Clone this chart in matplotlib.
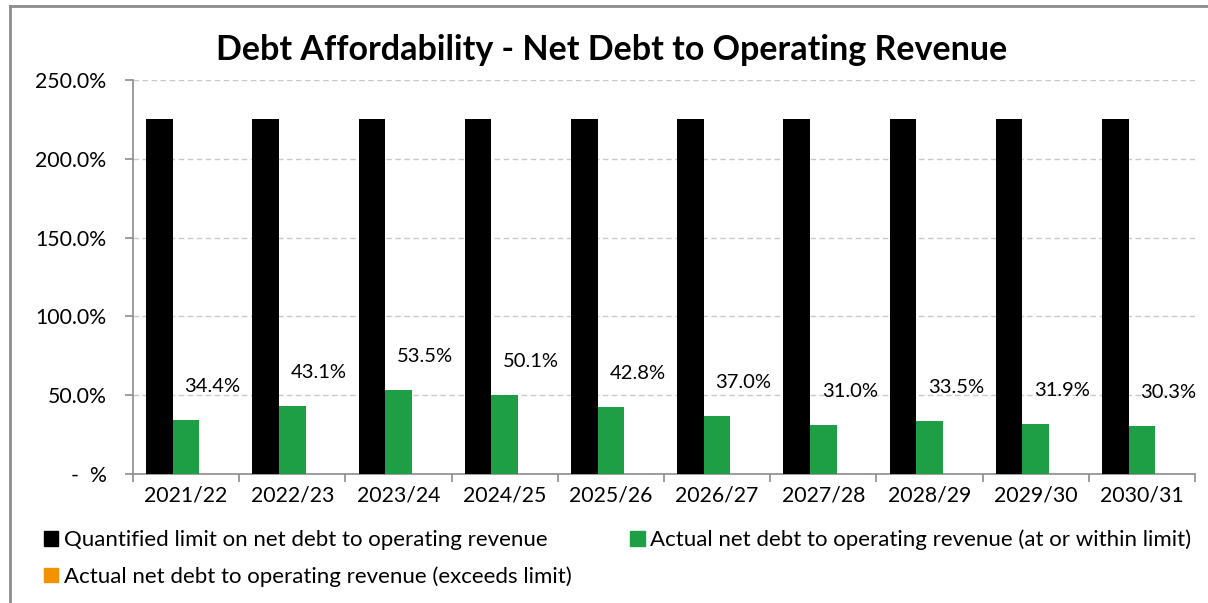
import matplotlib.pyplot as plt
from matplotlib.patches import Patch
from matplotlib.lines import Line2D
import numpy as np

plt.rcParams['font.family'] = ['Lato', 'DejaVu Sans']

years = ['2021/22', '2022/23', '2023/24', '2024/25', '2025/26',
         '2026/27', '2027/28', '2028/29', '2029/30', '2030/31']
limit = [225.0] * 10
actual_within = [34.4, 43.1, 53.5, 50.1, 42.8, 37.0, 31.0, 33.5, 31.9, 30.3]
actual_exceeds = [0.0] * 10

black = '#000000'
green = '#1E9E45'
orange = '#F39200'
grey = '#8C8C8C'

fig = plt.figure(figsize=(12.08, 6.03), dpi=100)
ax = fig.add_axes([0.1101, 0.2139, 0.8791, 0.6534])

x = np.arange(len(years))
w = 0.25
ax.bar(x - w, limit, w, color=black, zorder=3)
ax.bar(x, actual_within, w, color=green, zorder=3)
ax.bar(x + w, actual_exceeds, w, color=orange, zorder=3)

for xi, v in zip(x, actual_within):
    ax.annotate(f'{v:.1f}%', (xi + w, v), xytext=(0, 24), textcoords='offset points',
                ha='center', va='center', fontsize=14.5)

ax.set_xlim(-0.5, len(years) - 0.5)
ax.set_ylim(0, 250)
ax.set_yticks([0, 50, 100, 150, 200, 250])
ax.set_yticklabels(['-  %', '50.0%', '100.0%', '150.0%', '200.0%', '250.0%'], fontsize=15.3)
ax.set_xticks(x)
ax.set_xticklabels(years, fontsize=15.3)
ax.set_xticks(np.arange(len(years) + 1) - 0.5, minor=True)
ax.tick_params(axis='x', which='major', length=0, pad=8)
ax.tick_params(axis='x', which='minor', length=6, color=grey, width=1.2)
ax.tick_params(axis='y', length=6, color=grey, width=1.2, pad=13)

ax.grid(axis='y', color='#C8C8C8', linestyle=(0, (4, 2.5)), linewidth=1, zorder=0)
for s in ['top', 'right']:
    ax.spines[s].set_visible(False)
for s in ['left', 'bottom']:
    ax.spines[s].set_color(grey)
    ax.spines[s].set_linewidth(1.2)

fig.text(0.506, 0.917, 'Debt Affordability - Net Debt to Operating Revenue',
         ha='center', va='center', fontsize=24.5, fontweight='bold')

handles = [Patch(color=black), Patch(color=orange), Patch(color=green)]
labels = ['Quantified limit on net debt to operating revenue',
          'Actual net debt to operating revenue (exceeds limit)',
          'Actual net debt to operating revenue (at or within limit)']
fig.legend(handles, labels, ncol=2, loc='upper left', bbox_to_anchor=(0.027, 0.14),
           frameon=False, fontsize=16, handlelength=0.65, handleheight=0.65,
           handletextpad=0.25, columnspacing=2.65, labelspacing=0.72, borderpad=0)

# chart frame
fig.add_artist(Line2D([10 / 1208, 10 / 1208], [0, 1 - 6 / 603], color=grey, lw=2))
fig.add_artist(Line2D([10 / 1208, 1], [1 - 6 / 603, 1 - 6 / 603], color=grey, lw=2))

fig.savefig('out.png', dpi=100)
